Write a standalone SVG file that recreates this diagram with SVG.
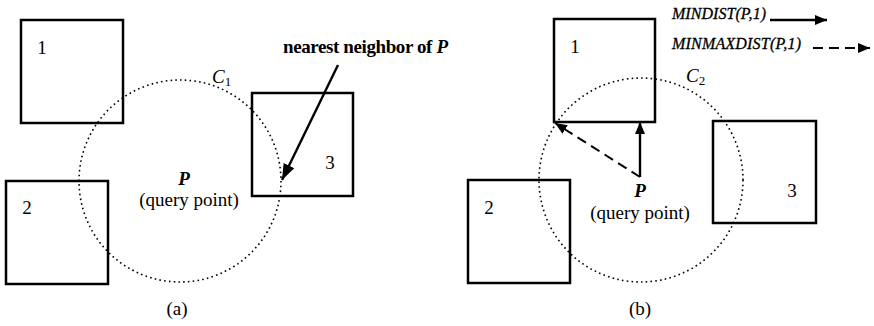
<svg xmlns="http://www.w3.org/2000/svg" width="874" height="326" viewBox="0 0 874 326">
<style>
.box{fill:none;stroke:#000;stroke-width:2.5}
.circ{fill:none;stroke:#000;stroke-width:1.6;stroke-dasharray:1.6 3.2}
.t{font-family:"Liberation Serif","Times New Roman",serif;font-size:19px;fill:#000}
.i{font-style:italic}
.b{font-weight:bold}
.lg{font-family:"Liberation Serif","Times New Roman",serif;font-size:16px;font-style:italic;fill:#000;stroke:#000;stroke-width:0.3}
.arr{fill:none;stroke:#000;stroke-width:2.4}
.dash{fill:none;stroke:#000;stroke-width:2;stroke-dasharray:10 6}
</style>
<defs>
<marker id="ah" markerUnits="userSpaceOnUse" markerWidth="18" markerHeight="14" refX="16" refY="6" orient="auto">
<path d="M0,0 L16,6 L0,12 Z" fill="#000"/>
</marker>
<marker id="ahs" markerUnits="userSpaceOnUse" markerWidth="14" markerHeight="12" refX="12" refY="5" orient="auto">
<path d="M0,0 L12,5 L0,10 Z" fill="#000"/>
</marker>
</defs>

<!-- Panel (a) -->
<g id="a-box1"><rect class="box" x="21" y="20" width="102" height="103"/><text class="t" x="42" y="54" text-anchor="middle">1</text></g>
<g id="a-box2"><rect class="box" x="6" y="181" width="102" height="103"/><text class="t" x="27" y="214" text-anchor="middle">2</text></g>
<g id="a-box3"><rect class="box" x="252" y="93" width="101" height="103"/><text class="t" x="330" y="169" text-anchor="middle">3</text></g>
<g id="a-circle"><circle class="circ" cx="180" cy="181" r="101"/>
<text class="t i" x="212" y="83" font-size="18">C<tspan font-size="13" font-style="normal" dy="3">1</tspan></text></g>
<g id="a-query"><text class="t i b" x="184" y="185" text-anchor="middle">P</text>
<text class="t" x="189" y="206" text-anchor="middle">(query point)</text></g>
<g id="a-label"><text class="t b" x="283" y="53" textLength="165">nearest neighbor of <tspan class="i">P</tspan></text></g>
<text class="t" x="177" y="315" text-anchor="middle">(a)</text>

<!-- Panel (b) -->
<g id="b-box1"><rect class="box" x="554" y="19" width="101" height="103"/><text class="t" x="575" y="53" text-anchor="middle">1</text></g>
<g id="b-box2"><rect class="box" x="468" y="180" width="102" height="103"/><text class="t" x="489" y="214" text-anchor="middle">2</text></g>
<g id="b-box3"><rect class="box" x="713" y="121" width="103" height="102"/><text class="t" x="792" y="197" text-anchor="middle">3</text></g>
<g id="b-circle"><circle class="circ" cx="641" cy="180" r="102"/>
<text class="t i" x="686" y="82" font-size="18">C<tspan font-size="13" font-style="normal" dy="3">2</tspan></text></g>
<g id="b-query"><text class="t i b" x="640" y="197" text-anchor="middle">P</text>
<text class="t" x="640" y="219" text-anchor="middle">(query point)</text></g>
<g id="legend">
<text class="lg" x="672" y="19" textLength="94">MINDIST(P,1)</text>
<text class="lg" x="672" y="49" textLength="129">MINMAXDIST(P,1)</text>
</g>
<text class="t" x="640" y="315" text-anchor="middle">(b)</text>

<g id="connectors">
<line class="arr" x1="338" y1="65" x2="282" y2="180" marker-end="url(#ah)"/>
<line class="arr" x1="640" y1="177" x2="640" y2="122" marker-end="url(#ahs)"/>
<line class="dash" x1="640" y1="177" x2="555" y2="123" marker-end="url(#ahs)"/>
<line class="arr" x1="770" y1="20" x2="827" y2="20" marker-end="url(#ahs)"/>
<line class="dash" x1="813" y1="48" x2="870" y2="48" stroke-dasharray="10 11" marker-end="url(#ahs)"/>
</g>
</svg>
